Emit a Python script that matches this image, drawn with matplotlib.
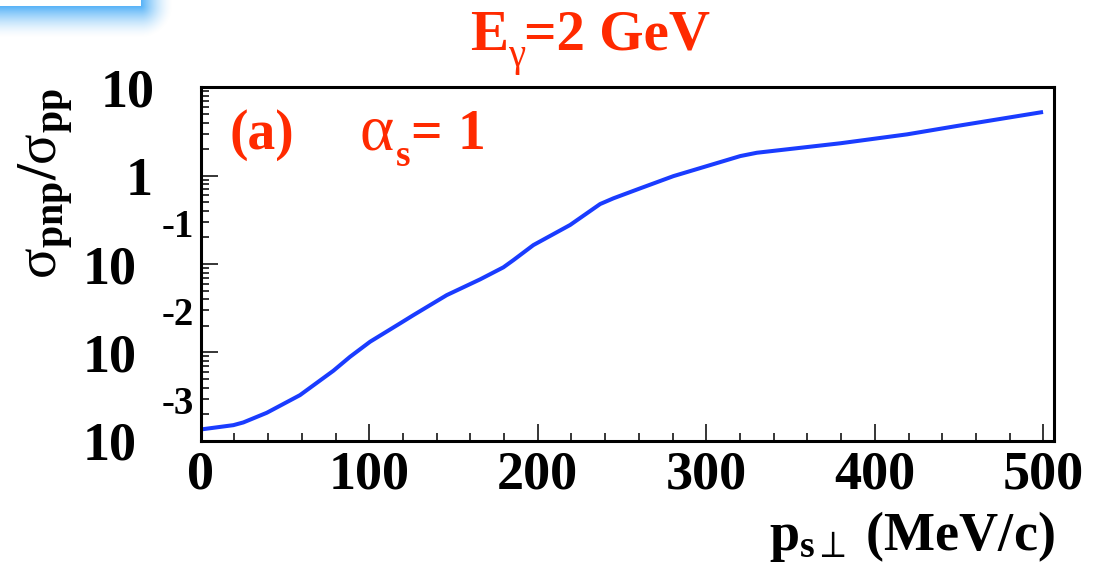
import numpy as np
import matplotlib
matplotlib.use("Agg")
import matplotlib.pyplot as plt
from matplotlib.ticker import LogLocator, NullFormatter, MultipleLocator

# transverse momentum of the spectator (MeV/c) and cross-section ratio
p_perp = [0.0, 19.4, 25.3, 39.2, 58.9, 78.7, 88.6, 100.5, 118.3, 126.2, 146.0,
          165.8, 179.6, 185.6, 197.4, 219.2, 237.0, 244.9, 260.8, 280.5, 320.2,
          330.0, 379.5, 419.1, 448.8, 499.8]
ratio = [1.34e-3, 1.50e-3, 1.61e-3, 2.07e-3, 3.28e-3, 6.19e-3, 8.91e-3, 1.32e-2,
         2.13e-2, 2.64e-2, 4.45e-2, 6.71e-2, 9.18e-2, 0.111, 0.164, 0.277, 0.478,
         0.555, 0.720, 0.99, 1.67, 1.82, 2.33, 2.94, 3.66, 5.27]

x_ticks = [0, 100, 200, 300, 400, 500]
x_tick_labels = ["0", "100", "200", "300", "400", "500"]
y_decades = [1, 0, -1, -2, -3]

RED = "#FF2A00"
BLUE = "#1A3CFF"
SERIF = "Liberation Serif"

plt.rcParams["mathtext.fontset"] = "custom"
plt.rcParams["mathtext.rm"] = "Liberation Serif"
plt.rcParams["mathtext.bf"] = "Liberation Serif:bold"
plt.rcParams["mathtext.it"] = "Liberation Serif:italic"

W, H = 1106, 565
fig = plt.figure(figsize=(W / 100, H / 100), dpi=100)
fig.patch.set_facecolor("white")


def ptext(x, y, s, size, weight="bold", color="black", **kw):
    """Place text with its left edge / baseline at pixel (x, y) from top-left."""
    return fig.text(x / W, 1 - y / H, s, fontsize=size, fontweight=weight,
                    fontfamily=SERIF, color=color, ha=kw.pop("ha", "left"),
                    va="baseline", **kw)


x0, x1 = 200.7, 1053.5
y0, y1 = 87.4, 440.7
ax = fig.add_axes([x0 / W, 1 - y1 / H, (x1 - x0) / W, (y1 - y0) / H])

ax.plot(p_perp, ratio, color=BLUE, lw=2.9, solid_capstyle="butt")
ax.set_yscale("log")
ax.set_xlim(0, 506)
ax.set_ylim(1e-3, 10)

for s in ax.spines.values():
    s.set_linewidth(2.2)

ax.xaxis.set_major_locator(MultipleLocator(100))
ax.xaxis.set_minor_locator(MultipleLocator(20))
ax.yaxis.set_major_locator(LogLocator(base=10))
ax.yaxis.set_minor_locator(LogLocator(base=10, subs=np.arange(2, 10)))
ax.yaxis.set_major_formatter(NullFormatter())
ax.yaxis.set_minor_formatter(NullFormatter())
ax.tick_params(which="both", direction="in", top=False, right=False, width=1.1)
ax.tick_params(which="major", length=12)
ax.tick_params(which="minor", length=6)

ax.set_xticks(x_ticks)
ax.set_xticklabels(x_tick_labels, fontfamily=SERIF, fontweight="bold", fontsize=39)
ax.tick_params(axis="x", which="major", pad=7)

# y tick labels drawn in the "10" + raised exponent style
lab = dict(fontfamily=SERIF, fontweight="bold", color="black",
           xycoords=("axes fraction", "data"), textcoords="offset pixels",
           ha="right", va="baseline", annotation_clip=False)
for k in y_decades:
    if k == 1:
        ax.annotate("10", xy=(0, 10.0 ** k), xytext=(-46, -19.5), fontsize=39, **lab)
    elif k == 0:
        ax.annotate("1", xy=(0, 10.0 ** k), xytext=(-48, -19.5), fontsize=39, **lab)
    else:
        ax.annotate("10", xy=(0, 10.0 ** k), xytext=(-64, -19), fontsize=39, **lab)
        ax.annotate(f"{k}", xy=(0, 10.0 ** k), xytext=(-7, 27), fontsize=28, **lab)

# axis titles
fig.text(57 / W, 1 - 88 / H,
         r"$\mathrm{\sigma}_{\mathbf{pnp}}\mathbf{/}\mathrm{\sigma}_{\mathbf{pp}}$",
         fontsize=41, rotation=90, rotation_mode="anchor", ha="right", va="baseline")
fig.text(1055 / W, 1 - 550 / H, r"$\mathbf{p}_{\mathbf{s}\perp}\mathbf{\ (MeV/c)}$",
         fontsize=39, ha="right", va="baseline")

# beam energy
ptext(470, 50, "E", 41, color=RED)
ptext(508, 66, "\u03b3", 28, weight="normal", color=RED)
ptext(524, 50, "=2 GeV", 41, color=RED)

# panel tag and coupling
ptext(230, 149, "(a)", 40, color=RED)
ptext(359, 150, "\u03b1", 47, weight="normal", color=RED)
ptext(396, 166, "s", 27, color=RED)
ptext(410, 149, "=", 40, color=RED)
ptext(458, 149, "1", 40, color=RED)

# soft blue glow around a small white box in the top-left corner
gw, gh = 190, 45
yy, xx = np.mgrid[0:gh, 0:gw] + 0.5
bx, by = 141.0, 6.0
dx = np.clip(xx - bx, 0, None)
dy = np.clip(yy - by, 0, None)
d = np.hypot(dx, dy)
alpha = np.clip(1 - d / 32.0, 0, 1) ** 1.6
inside = (xx <= bx) & (yy <= by)
img = np.ones((gh, gw, 4))
img[..., 0] = 85 / 255
img[..., 1] = 178 / 255
img[..., 2] = 247 / 255
img[..., 3] = alpha
img[inside] = [1, 1, 1, 1]
gax = fig.add_axes([0, 1 - gh / H, gw / W, gh / H])
gax.imshow(img, extent=(0, gw, gh, 0), aspect="auto", interpolation="bilinear")
gax.axis("off")

fig.savefig("out.png", dpi=100)
